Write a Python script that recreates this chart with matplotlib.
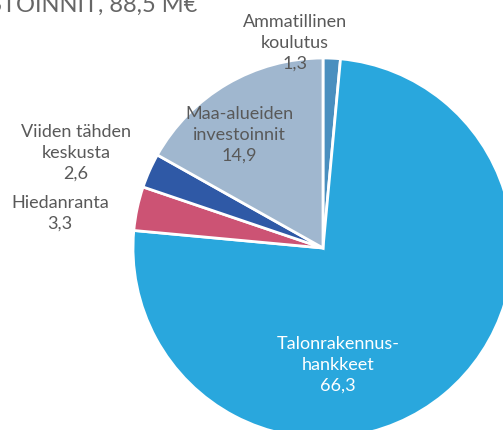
import matplotlib
matplotlib.use("Agg")
import matplotlib.pyplot as plt

# Investment breakdown, M€
labels = ["Ammatillinen\nkoulutus", "Talonrakennus-\nhankkeet", "Hiedanranta",
          "Viiden tähden\nkeskusta", "Maa-alueiden\ninvestoinnit"]
values = [1.3, 66.3, 3.3, 2.6, 14.9]
colors = ["#4A8FBF", "#29A7DD", "#CC5374", "#2F59A6", "#A0B7CF"]
title = "INVESTOINNIT, 88,5 M€"

W, H = 503, 430
fig = plt.figure(figsize=(W / 100, H / 100), dpi=100)
ax = fig.add_axes([0, 0, 1, 1])

cx, cy, r = 323, H - 248, 190
ax.pie(values, colors=colors, startangle=90, counterclock=False,
       center=(cx, cy), radius=r, frame=True,
       wedgeprops=dict(edgecolor="white", linewidth=2))
ax.set_xlim(0, W)
ax.set_ylim(0, H)
ax.set_aspect("equal")
ax.axis("off")

def fmt(v):
    return f"{v:.1f}".replace(".", ",")

font = "Lato"
size = 13
grey = "#595959"
label_pos = [(295, H - 43, grey), (338, H - 365, "white"), (60, H - 213, grey),
             (76, H - 153, grey), (239, H - 135, grey)]
for lab, v, (x, y, c) in zip(labels, values, label_pos):
    ax.text(x, y, f"{lab}\n{fmt(v)}", ha="center", va="center", color=c,
            fontsize=size, family=font, linespacing=1.35)

ax.text(197, H - 12, title, ha="right", va="baseline", color="#666666",
        fontsize=17, family=font)

fig.savefig("out.png", dpi=100)
